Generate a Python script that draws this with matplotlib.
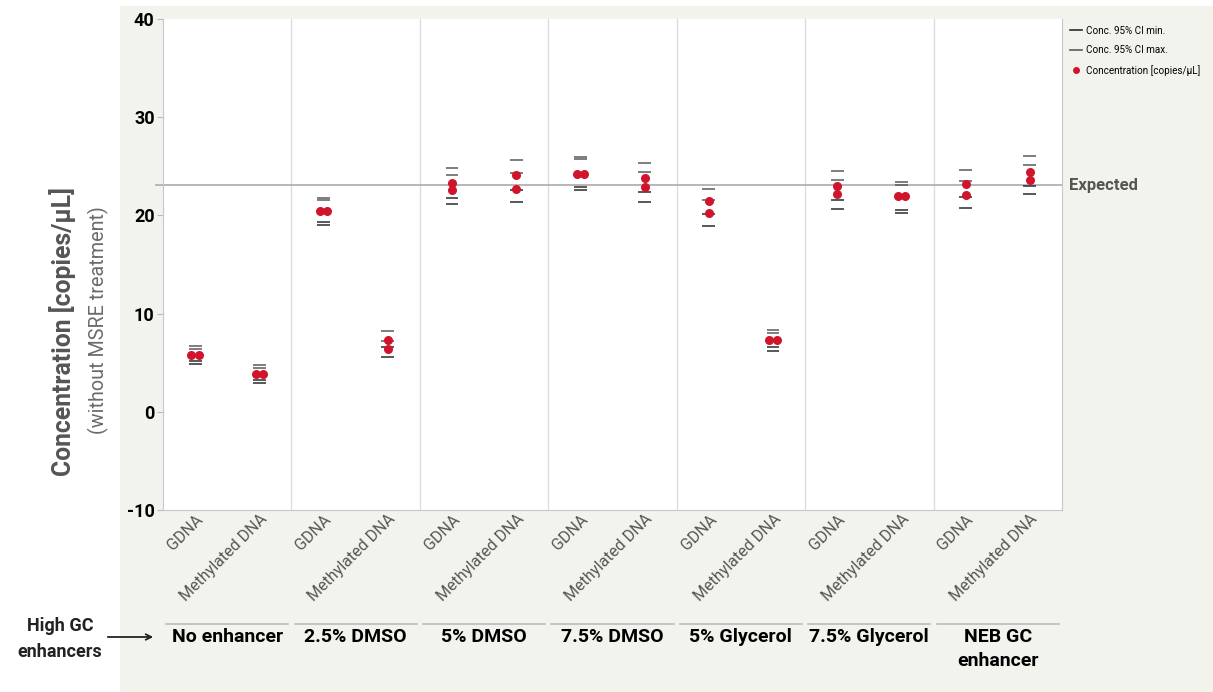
import matplotlib.pyplot as plt
from matplotlib.lines import Line2D
import numpy as np

plt.rcParams['font.family'] = ['Roboto', 'DejaVu Sans']

groups = ["No enhancer", "2.5% DMSO", "5% DMSO", "7.5% DMSO",
          "5% Glycerol", "7.5% Glycerol", "NEB GC\nenhancer"]
samples = ["GDNA", "Methylated DNA"]

# two replicates per sample, samples ordered GDNA / Methylated DNA within each group
conc = [
    [5.8, 5.8], [3.9, 3.9],
    [20.4, 20.4], [7.35, 6.4],
    [23.3, 22.55], [24.15, 22.72],
    [24.22, 24.22], [23.85, 22.86],
    [21.46, 20.2], [7.28, 7.28],
    [22.99, 22.14], [21.94, 21.94],
    [23.16, 22.07], [24.46, 23.57],
]
ci_max = [
    [6.67, 6.4], [4.75, 4.48],
    [21.82, 21.55], [8.27, 7.17],
    [24.83, 24.11], [25.68, 24.29],
    [25.97, 25.72], [25.37, 24.39],
    [22.72, 21.6], [8.36, 8.03],
    [24.52, 23.64], [23.4, 23.13],
    [24.59, 23.47], [26.05, 25.17],
]
ci_min = [
    [5.16, 4.9], [3.22, 2.97],
    [19.28, 18.98], [6.56, 5.61],
    [21.81, 21.15], [22.62, 21.33],
    [22.86, 22.59], [22.35, 21.4],
    [20.13, 18.88], [6.56, 6.23],
    [21.53, 20.68], [20.54, 20.28],
    [21.84, 20.78], [22.96, 22.14],
]
expected = 23.07

red = '#d0142c'
fig = plt.figure(figsize=(12.13, 6.92), dpi=100)
# light panel behind the chart
fig.patches.append(plt.Rectangle((120 / 1213, 0), 1, 1 - 6 / 692, transform=fig.transFigure,
                                 facecolor='#f3f3ee', edgecolor='none', zorder=-10))
ax = fig.add_axes([163 / 1213, 1 - 510 / 692, 899 / 1213, 491 / 692])
ax.set_facecolor('white')

n = len(conc)
x = np.arange(n)
for i in range(n):
    c1, c2 = conc[i]
    off = 0.057 if abs(c1 - c2) < 0.6 else 0.0
    for lo, hi in zip(ci_min[i], ci_max[i]):
        ax.hlines(lo, x[i] - 0.1, x[i] + 0.1, color='#2b2b2b', lw=1.1, zorder=3)
        ax.hlines(hi, x[i] - 0.1, x[i] + 0.1, color='#5a5a5a', lw=1.1, zorder=3)
    ax.plot([x[i] - off, x[i] + off], [c1, c2], 'o', color=red, ms=6.5, mec='none', zorder=4)

# group separators
for g in range(1, len(groups)):
    ax.axvline(2 * g - 0.5, color='#dcdcdc', lw=1, zorder=1)

ax.axhline(expected, xmin=-0.008, xmax=1, color='#aaaaaa', lw=1.2, clip_on=False, zorder=2)
ax.text(1.008, expected, "Expected", transform=ax.get_yaxis_transform(), va='center',
        ha='left', fontsize=12, fontweight='bold', color='#555555')

ax.set_xlim(-0.5, n - 0.5)
ax.set_ylim(-10, 40)
ax.set_yticks([-10, 0, 10, 20, 30, 40])
ax.set_yticklabels(['-10', '0', '10', '20', '30', '40'], fontsize=13, fontweight='bold')
ax.tick_params(axis='y', length=4, color='#bbbbbb', pad=2)
ax.set_xticks(x)
ax.set_xticklabels(samples * len(groups), rotation=45, ha='right', rotation_mode='anchor',
                   fontsize=11.5, color='#555555')
ax.tick_params(axis='x', length=0, pad=1)
for s in ['left', 'bottom', 'right']:
    ax.spines[s].set_color('#c8c8c8')
ax.spines['top'].set_visible(False)

fig.text(63 / 1213, 1 - 331 / 692, "Concentration [copies/μL]", rotation=90, ha='center',
         va='center', fontsize=17.8, fontweight='bold', color='#555555')
fig.text(98 / 1213, 1 - 320 / 692, "(without MSRE treatment)", rotation=90, ha='center',
         va='center', fontsize=14.2, color='#6a6a6a')

# group labels under the sample labels
for g, name in enumerate(groups):
    x0 = ax.transData.transform((2 * g - 0.45, 0))[0] / fig.bbox.width
    x1 = ax.transData.transform((2 * g + 1.45, 0))[0] / fig.bbox.width
    fig.add_artist(Line2D([x0, x1], [1 - 624 / 692] * 2, color='#bbbbbb', lw=1.2))
    fig.text((x0 + x1) / 2, 1 - 628 / 692, name, ha='center', va='top', fontsize=14,
             fontweight='bold', linespacing=1.45)

fig.text(60 / 1213, 1 - 639 / 692, "High GC\nenhancers", ha='center', va='center',
         fontsize=13, fontweight='bold', color='#222222', linespacing=1.6)
ax.annotate('', xy=(156 / 1213, 1 - 637 / 692), xytext=(105 / 1213, 1 - 637 / 692),
            xycoords='figure fraction',
            arrowprops=dict(arrowstyle='->', color='#222222', lw=1.3))

handles = [
    Line2D([], [], color='#2b2b2b', lw=1.2),
    Line2D([], [], color='#5a5a5a', lw=1.2),
    Line2D([], [], marker='o', ls='none', color=red, ms=5, mec='none'),
]
fig.legend(handles, ["Conc. 95% CI min.", "Conc. 95% CI max.", "Concentration [copies/μL]"],
           loc='upper left', bbox_to_anchor=(1066 / 1213, 1 - 22 / 692), frameon=False,
           fontsize=7.1, handlelength=1.2, handletextpad=0.4, labelspacing=0.95, borderaxespad=0)

fig.savefig('out.png', dpi=100)
